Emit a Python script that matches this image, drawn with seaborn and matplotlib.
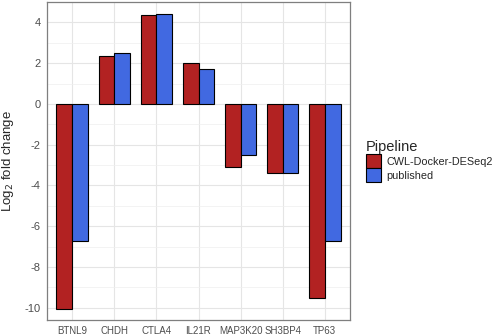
import pandas as pd
import seaborn as sns
import matplotlib.pyplot as plt
from matplotlib.ticker import MultipleLocator

genes = ['BTNL9', 'CHDH', 'CTLA4', 'IL21R', 'MAP3K20', 'SH3BP4', 'TP63']
cwl_docker = [-10.05, 2.35, 4.35, 2.0, -3.1, -3.4, -9.5]
published = [-6.7, 2.5, 4.4, 1.7, -2.5, -3.4, -6.7]
pipelines = ['CWL-Docker-DESeq2', 'published']

df = pd.DataFrame({
    'gene': genes * 2,
    'lfc': cwl_docker + published,
    'Pipeline': [pipelines[0]] * len(genes) + [pipelines[1]] * len(genes),
})

sns.set_style('white')
plt.rcParams['font.family'] = ['Liberation Sans', 'DejaVu Sans']
plt.rcParams['axes.unicode_minus'] = False

fig = plt.figure(figsize=(4.98, 3.36), dpi=100)
ax = fig.add_axes([47 / 498, 16 / 336, 303 / 498, 318 / 336])

sns.barplot(data=df, x='gene', y='lfc', hue='Pipeline', order=genes, hue_order=pipelines,
            palette=['#B22222', '#4169E1'], width=0.75, edgecolor='black', linewidth=0.8,
            saturation=1, ax=ax, zorder=3)

ax.set_xlim(-0.6, 6.6)
ax.set_ylim(-10.6, 5.0)
ax.yaxis.set_major_locator(MultipleLocator(2))
ax.yaxis.set_minor_locator(MultipleLocator(1))
ax.grid(which='major', color='#e5e5e5', linewidth=0.8, zorder=0)
ax.grid(which='minor', axis='y', color='#efefef', linewidth=0.5, zorder=0)
ax.set_axisbelow(True)
for s in ax.spines.values():
    s.set_color('#7f7f7f')
    s.set_linewidth(0.9)

ax.tick_params(axis='both', which='major', length=2.5, color='#333333', labelsize=8,
               labelcolor='#4d4d4d', pad=2)
ax.tick_params(axis='x', labelsize=7)
ax.tick_params(which='minor', length=0)
ax.set_xlabel('')
ax.set_ylabel('Log$_2$ fold change', fontsize=9.5, labelpad=6)

leg = ax.legend(title='Pipeline', loc='center left', bbox_to_anchor=(1.035, 0.5), frameon=False,
                fontsize=7.8, title_fontsize=10.5, handlelength=1.4, handleheight=1.6,
                handletextpad=0.5, labelspacing=0.0, borderpad=0)
leg._legend_box.align = 'left'

fig.savefig('out.png', dpi=100)
